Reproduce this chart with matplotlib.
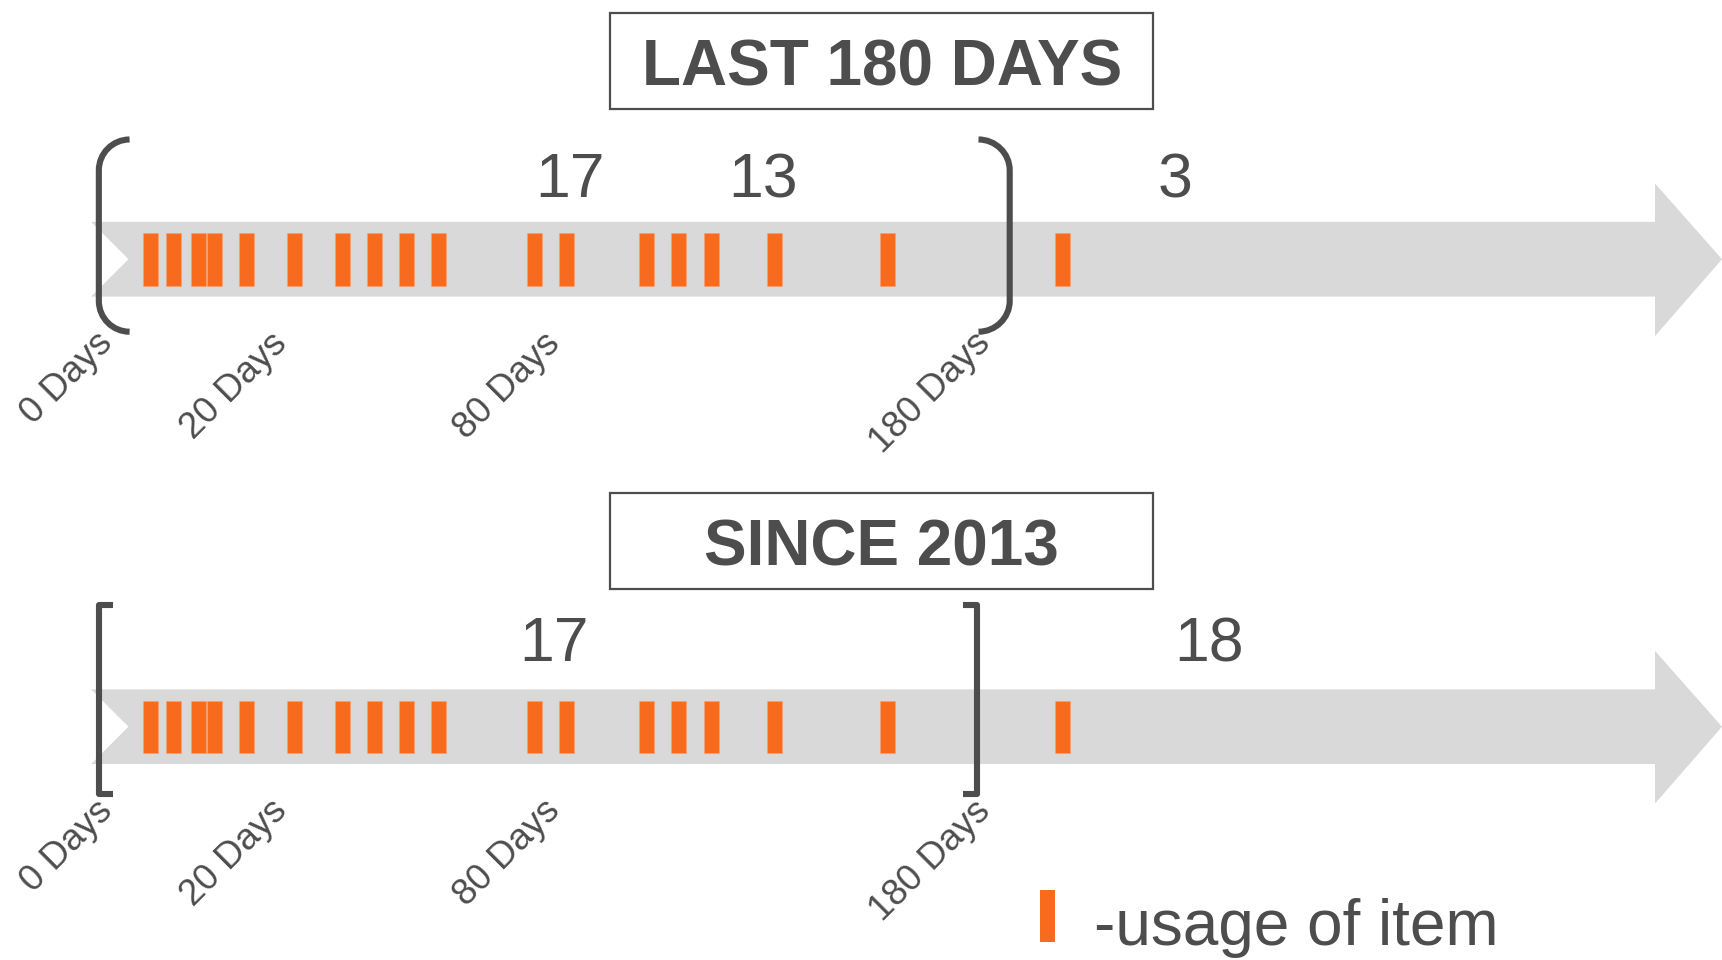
import matplotlib
matplotlib.use("Agg")
import matplotlib.pyplot as plt
from matplotlib.patches import Polygon, Rectangle, PathPatch
from matplotlib.path import Path

# ---------------- data ----------------
# usage events, positioned on the timeline (days scale, 0 = start, 180 = end of window)
usage_days = [10.2, 14.7, 19.7, 22.8, 29.2, 38.6, 48.2, 54.5, 60.8, 67.2,
              86.1, 92.4, 108.3, 114.6, 121.0, 133.6, 155.8, 190.4]
tick_labels = ["0 Days", "20 Days", "80 Days", "180 Days"]
tick_label_pos = [3.0, 37.5, 91.4, 176.4]          # where each label ends on the timeline
top_counts = ["17", "13", "3"]
top_count_pos = [93.1, 131.2, 212.6]
bottom_counts = ["17", "18"]
bottom_count_pos = [90.0, 219.4]
titles = ["LAST 180 DAYS", "SINCE 2013"]
legend_text = "-usage of item"

# ---------------- style ----------------
ORANGE = "#F96B1C"
BAND = "#D9D9D9"
DARK = "#4D4D4D"
FONT = "Liberation Sans"

W, H = 1568.0, 874.0           # layout frame (scaled to figure)
ZERO_PX = 90.0                 # frame x of "0 days"
PX_PER_DAY = (919.4 - 90.0) / 180.0


def X(px):
    return (px - ZERO_PX) / PX_PER_DAY


fig = plt.figure(figsize=(17.22, 9.6), dpi=100)
ax = fig.add_axes([0, 0, 1, 1])
ax.set_xlim(X(0), X(W))
ax.set_ylim(H, 0)
ax.axis("off")

row_offsets = [0.0, 425.6]

for r, dy in enumerate(row_offsets):
    # ---- grey arrow band ----
    top, bot, cy = 202 + dy, 270 + dy, 236 + dy
    pts = [(83, top), (1507, top), (1507, 167 + dy), (1568, cy),
           (1507, 306 + dy), (1507, bot), (83, bot), (117, cy)]
    ax.add_patch(Polygon([(X(px), py) for px, py in pts], closed=True,
                         facecolor=BAND, edgecolor="none", zorder=1))

    # ---- usage bars ----
    ax.bar(usage_days, 47.5, width=13.6 / PX_PER_DAY, bottom=212.5 + dy,
           color=ORANGE, edgecolor="#F7A070", linewidth=0.4, zorder=3)

    # ---- title box ----
    by0, by1 = (12, 99) if r == 0 else (449, 536)
    ax.add_patch(Rectangle((X(555), by0), X(1050) - X(555), by1 - by0,
                           facecolor="white", edgecolor=DARK, linewidth=1.6,
                           zorder=2))
    ax.text(X(803), (77.5 if r == 0 else 515.0), titles[r], ha="center",
            va="baseline", fontsize=46, fontweight="bold", color=DARK,
            family=FONT, zorder=4)

    # ---- brackets ----
    lw = 4.4
    if r == 0:
        k = 0.5523 * 28
        y0, y1 = 127 + dy, 302 + dy
        for xv, xe in [(90, 118), (919.4, 891)]:
            s = 1 if xe > xv else -1
            verts = [(xe, y0), (xe - s * k, y0), (xv, y0 + 28 - k), (xv, y0 + 28),
                     (xv, y1 - 28), (xv, y1 - 28 + k), (xe - s * k, y1), (xe, y1)]
            codes = [Path.MOVETO, Path.CURVE4, Path.CURVE4, Path.CURVE4,
                     Path.LINETO, Path.CURVE4, Path.CURVE4, Path.CURVE4]
            path = Path([(X(a), b) for a, b in verts], codes)
            ax.add_patch(PathPatch(path, facecolor="none", edgecolor=DARK,
                                   linewidth=lw, capstyle="butt", zorder=4))
    else:
        y0, y1 = 550.5, 722.5
        for xv, xe in [(90, 103), (889.5, 876.7)]:
            ax.plot([X(xe), X(xv), X(xv), X(xe)], [y0, y0, y1, y1], color=DARK,
                    linewidth=lw, solid_joinstyle="round",
                    solid_capstyle="butt", zorder=4)

    # ---- rotated day labels ----
    for lab, pos in zip(tick_labels, tick_label_pos):
        ax.text(pos, 314 + dy, lab, rotation=45, rotation_mode="anchor",
                ha="right", va="baseline", fontsize=26.5, color=DARK,
                family=FONT, zorder=4)

# ---- counts ----
for lab, pos in zip(top_counts, top_count_pos):
    ax.text(pos, 179.4, lab, ha="center", va="baseline", fontsize=45,
            color=DARK, family=FONT, zorder=4)
for lab, pos in zip(bottom_counts, bottom_count_pos):
    ax.text(pos, 602.0, lab, ha="center", va="baseline", fontsize=45,
            color=DARK, family=FONT, zorder=4)

# ---- legend ----
ax.add_patch(Rectangle((X(947), 810), X(960.5) - X(947), 47.5,
                       facecolor=ORANGE, edgecolor="none", zorder=3))
ax.text(X(996), 860, legend_text, ha="left", va="baseline", fontsize=46,
        color=DARK, family=FONT, zorder=4)

fig.savefig("out.png", dpi=100, facecolor="white")
